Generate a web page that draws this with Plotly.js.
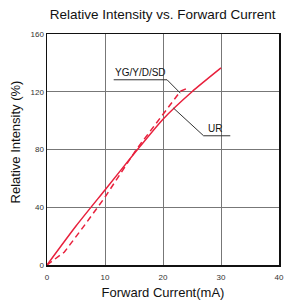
<!DOCTYPE html>
<html><head><meta charset="utf-8">
<script src="https://cdn.plot.ly/plotly-3.0.1.min.js"></script>
<style>html,body{margin:0;padding:0;background:#fff;}#chart{width:284px;height:305px;}</style>
</head><body><div id="chart"></div>
<script>
// Forward current (mA) and relative intensity (%)
const urCurrent = [0, 5, 10, 15, 20, 25, 30];
const urIntensity = [0, 27, 52, 77, 101, 120, 136.5];
const ygCurrent = [0, 3, 6.3, 10, 15.4, 19.5, 23, 24.2];
const ygIntensity = [0, 9, 26.6, 47, 80, 102, 120.3, 122.4];
const seriesNames = ["UR", "YG/Y/D/SD"];
const xTicks = [0, 10, 20, 30, 40];
const yTicks = [0, 40, 80, 120, 160];

const red = '#e8203c';
const traces = [
  {x: urCurrent, y: urIntensity, name: seriesNames[0], mode: 'lines', line: {color: red, width: 1.5, shape: 'spline', smoothing: 0.6}},
  {x: ygCurrent, y: ygIntensity, name: seriesNames[1], mode: 'lines', line: {color: red, width: 1.5, dash: '6px,4px'}}
];
const lead = {color: '#333', width: 1};
const layout = {
  width: 284, height: 305,
  margin: {l: 47, r: 5, t: 34, b: 40},
  paper_bgcolor: '#fff', plot_bgcolor: '#fff',
  showlegend: false,
  font: {family: 'Liberation Sans, Arial, sans-serif', color: '#111'},
  title: {text: 'Relative Intensity vs. Forward Current', font: {size: 13.5, color: '#111'}, x: 0.573, xanchor: 'center', y: 0.952, yanchor: 'middle'},
  xaxis: {range: [0, 40], tickvals: xTicks, ticktext: xTicks.map(String), showgrid: true, gridcolor: '#777', gridwidth: 1,
    zeroline: false, showline: true, linecolor: '#111', linewidth: 1.5, mirror: true, ticks: 'outside', ticklen: 4, tickcolor: 'rgba(0,0,0,0)',
    tickfont: {size: 8, color: '#333'}, fixedrange: true,
    title: {text: 'Forward Current(mA)', font: {size: 13, color: '#111'}, standoff: 7}},
  yaxis: {range: [0, 160], tickvals: yTicks, ticktext: yTicks.map(String), showgrid: true, gridcolor: '#777', gridwidth: 1,
    zeroline: false, showline: true, linecolor: '#111', linewidth: 1.5, mirror: true, ticks: '', ticklen: 0,
    tickfont: {size: 8, color: '#333'}, fixedrange: true},
  shapes: [
    {type: 'line', xref: 'x', yref: 'y', x0: 11.5, y0: 128.3, x1: 20.7, y1: 128.3, line: lead},
    {type: 'line', xref: 'x', yref: 'y', x0: 20.7, y0: 128.3, x1: 23, y1: 119, line: lead},
    {type: 'line', xref: 'x', yref: 'y', x0: 21.8, y0: 108.7, x1: 27, y1: 89.5, line: lead},
    {type: 'line', xref: 'x', yref: 'y', x0: 27, y0: 89.5, x1: 31.6, y1: 89.5, line: lead}
  ],
  annotations: [
    {x: 16.2, y: 133, xref: 'x', yref: 'y', text: seriesNames[1], showarrow: false, font: {size: 10, color: '#111'}},
    {x: 28.9, y: 94.4, xref: 'x', yref: 'y', text: seriesNames[0], showarrow: false, font: {size: 10, color: '#111'}},
    {x: -0.138, y: 0.535, xref: 'paper', yref: 'paper', text: 'Relative Intensity (%)', textangle: -90, showarrow: false,
     xanchor: 'center', yanchor: 'middle', font: {size: 13, color: '#111'}}
  ]
};
Plotly.newPlot('chart', traces, layout, {displayModeBar: false, staticPlot: true});
</script></body></html>
